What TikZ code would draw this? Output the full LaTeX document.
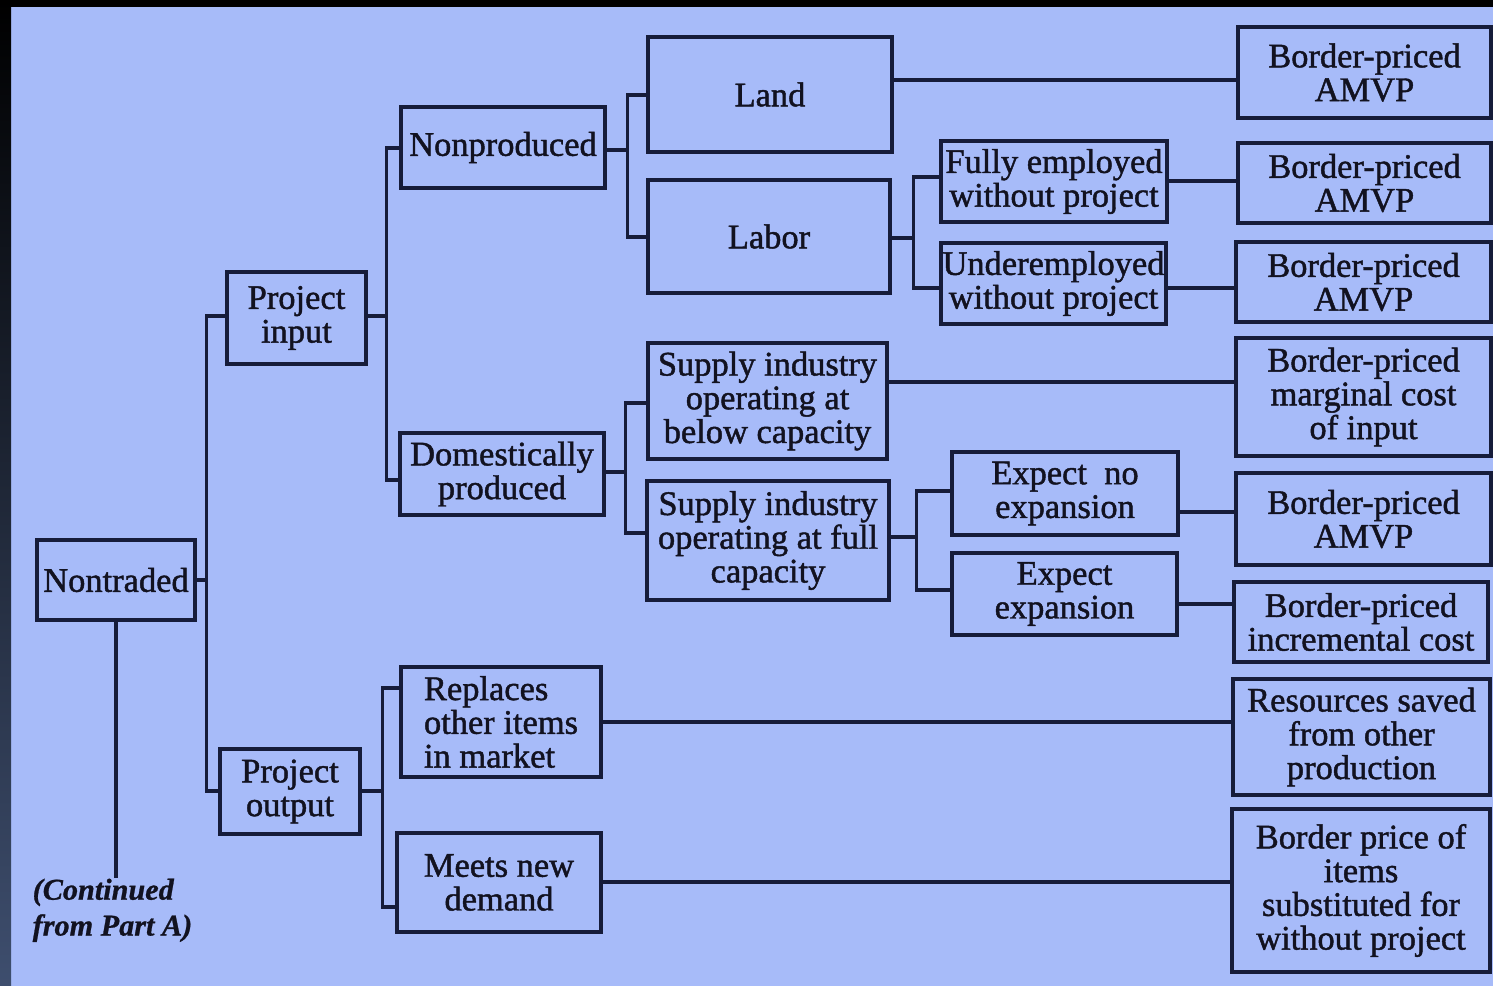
\documentclass[tikz,border=0pt]{standalone}
\usepackage{fontspec}
\newfontfamily\dfont[FakeBold=1.3]{Liberation Serif}
\newfontfamily\cfont[FakeBold=0.8]{Liberation Serif}
\definecolor{bgblue}{RGB}{167,187,249}
\definecolor{ink}{RGB}{22,28,58}
\definecolor{txt}{RGB}{18,18,32}
\definecolor{edgeslate}{RGB}{62,78,110}
\begin{document}
\begin{tikzpicture}[x=0.1mm,y=-0.1mm,
  box/.style={draw=ink, line width=1pt, rectangle, inner sep=0pt, align=center,
    text=txt, font=\dfont\fontsize{9.8}{9.6}\selectfont},
  conn/.style={draw=ink, line width=0.9pt},
  contstyle/.style={inner sep=0pt, align=left, text=txt,
    font=\cfont\bfseries\itshape\fontsize{8.6}{10.2}\selectfont}]
\path[use as bounding box] (0,0) rectangle (1493,986);
\fill[bgblue] (0,0) rectangle (1493,986);
\fill[black] (0,0) rectangle (1493,7);
\shade[top color=black, bottom color=edgeslate] (0,0) rectangle (11,986);

% level 0
\node[box, minimum width=15.8mm, minimum height=8mm] (nt) at (116,580) {Nontraded};
% level 1
\node[box, minimum width=13.9mm, minimum height=9.2mm] (pin) at (296.5,318) {Project\\input};
\node[box, minimum width=14mm, minimum height=8.5mm] (pout) at (290,791.5) {Project\\output};
% level 2
\node[box, minimum width=20.4mm, minimum height=8.1mm] (nonp) at (503,147.5) {Nonproduced};
\node[box, minimum width=20.4mm, minimum height=8.2mm] (dom) at (502,474) {Domestically\\produced};
\node[box, minimum width=20mm, minimum height=11mm, align=left] (repl) at (501,722) {Replaces\\other items\\in market};
\node[box, minimum width=20.4mm, minimum height=9.9mm] (meets) at (499,882.5) {Meets new\\demand};
% level 3
\node[box, minimum width=24.4mm, minimum height=11.5mm] (land) at (770,94.5) {Land};
\node[box, minimum width=24.2mm, minimum height=11.3mm] (labor) at (769,236.5) {Labor};
\node[box, minimum width=23.9mm, minimum height=11.6mm] (sbelow) at (767.5,401) {Supply industry\\operating at\\below capacity};
\node[box, minimum width=24.2mm, minimum height=11.9mm] (sfull) at (768,540.5) {Supply industry\\operating at full\\capacity};
% level 4
\node[box, minimum width=22.6mm, minimum height=8.1mm] (fully) at (1054,181.5) {Fully employed\\without project};
\node[box, minimum width=22.5mm, minimum height=8.1mm] (under) at (1053.5,283.5) {Underemployed\\without project};
\node[box, minimum width=22.6mm, minimum height=8.3mm] (eno) at (1065,493.5) {Expect\enspace no\\expansion};
\node[box, minimum width=22.5mm, minimum height=8.2mm] (eexp) at (1064.5,594) {Expect\\expansion};
% results
\node[box, minimum width=25.3mm, minimum height=9.1mm] (amvp1) at (1364.5,72.5) {Border-priced\\AMVP};
\node[box, minimum width=25.3mm, minimum height=8mm] (amvp2) at (1364.5,183) {Border-priced\\AMVP};
\node[box, minimum width=25.5mm, minimum height=8mm] (amvp3) at (1363.5,282) {Border-priced\\AMVP};
\node[box, minimum width=25.5mm, minimum height=11.8mm] (marg) at (1363.5,397) {Border-priced\\marginal cost\\of input};
\node[box, minimum width=25.5mm, minimum height=9.2mm] (amvp4) at (1363.5,519) {Border-priced\\AMVP};
\node[box, minimum width=25.4mm, minimum height=8mm] (incr) at (1361,622) {Border-priced\\incremental cost};
\node[box, minimum width=25.7mm, minimum height=11.6mm] (res) at (1361.5,737) {Resources saved\\from other\\production};
\node[box, minimum width=25.8mm, minimum height=16.3mm] (bpi) at (1361,890.5) {Border price of\\items\\substituted for\\without project};

\node[contstyle, anchor=north west] (cont) at (32,878) {(Continued\\from Part A)};

% connectors
\draw[conn] (nt.east) -- ++(10,0) coordinate (s1);
\draw[conn] (pin.west |- 0,316) -| (s1) |- (pout.west |- 0,791);
\draw[conn] (nt.south) -- (nt.south |- cont.north);

\draw[conn] (pin.east |- 0,316) -- ++(19,0) coordinate (s2);
\draw[conn] (nonp.west |- 0,148) -| (s2) |- (dom.west |- 0,480);

\draw[conn] (nonp.east |- 0,150) -- ++(21,0) coordinate (s3);
\draw[conn] (land.west |- 0,95) -| (s3) |- (labor.west |- 0,237);
\draw[conn] (land.east |- 0,80) -- (amvp1.west |- 0,80);

\draw[conn] (labor.east |- 0,238) -- ++(22,0) coordinate (s4);
\draw[conn] (fully.west |- 0,177) -| (s4) |- (under.west |- 0,288);
\draw[conn] (fully.east |- 0,181) -- (amvp2.west |- 0,181);
\draw[conn] (under.east |- 0,288) -- (amvp3.west |- 0,288);

\draw[conn] (dom.east |- 0,472) -- ++(20,0) coordinate (s5);
\draw[conn] (sbelow.west |- 0,403) -| (s5) |- (sfull.west |- 0,533);
\draw[conn] (sbelow.east |- 0,382) -- (marg.west |- 0,382);

\draw[conn] (sfull.east |- 0,537) -- ++(26,0) coordinate (s6);
\draw[conn] (eno.west |- 0,491) -| (s6) |- (eexp.west |- 0,590);
\draw[conn] (eno.east |- 0,512) -- (amvp4.west |- 0,512);
\draw[conn] (eexp.east |- 0,604) -- (incr.west |- 0,604);

\draw[conn] (pout.east |- 0,791) -- ++(21,0) coordinate (s7);
\draw[conn] (repl.west |- 0,688) -| (s7) |- (meets.west |- 0,907);
\draw[conn] (repl.east |- 0,722) -- (res.west |- 0,722);
\draw[conn] (meets.east |- 0,882) -- (bpi.west |- 0,882);
\end{tikzpicture}
\end{document}
